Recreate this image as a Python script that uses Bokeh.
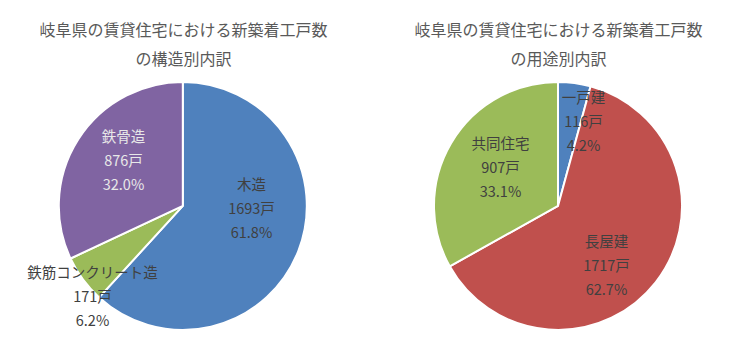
import math
from bokeh.plotting import figure
from bokeh.models import Range1d, ColumnDataSource
from bokeh.core.properties import value
from bokeh.embed import file_html
from bokeh.resources import INLINE

# ---- data ----
title_left = ["岐阜県の賃貸住宅における新築着工戸数", "の構造別内訳"]
title_right = ["岐阜県の賃貸住宅における新築着工戸数", "の用途別内訳"]

struct_names = ["木造", "鉄筋コンクリート造", "鉄骨造"]
struct_counts = [1693, 171, 876]
struct_pcts = ["61.8%", "6.2%", "32.0%"]
struct_colors = ["#4F81BD", "#9BBB59", "#8064A2"]

use_names = ["一戸建", "長屋建", "共同住宅"]
use_counts = [116, 1717, 907]
use_pcts = ["4.2%", "62.7%", "33.1%"]
use_colors = ["#4F81BD", "#C0504D", "#9BBB59"]

# ---- layout (pixel coords, y measured from top) ----
W, H = 735, 358
R = 124
FONT = "Noto Sans CJK JP"

# label anchor positions (centre of the 3-line block's middle line), per slice
struct_label_pos = [(251, 207), (92, 295), (123, 159)]
struct_label_colors = ["#404040", "#404040", "#E8E8E8"]
use_label_pos = [(583, 120), (606, 264), (500, 166)]
use_label_colors = ["#404040", "#404040", "#404040"]

p = figure(width=W, height=H, output_backend="svg", toolbar_location=None,
           x_range=Range1d(0, W), y_range=Range1d(0, H), min_border=0)
p.axis.visible = False
p.grid.visible = False
p.outline_line_color = None
p.background_fill_color = "white"
p.border_fill_color = "white"


def yy(ypx):
    return H - ypx


def draw_pie(cx, cy, counts, colors, names, pcts, label_pos, label_colors, titles, tx):
    total = sum(counts)
    starts, ends = [], []
    acc = 0
    for c in counts:
        a0 = math.pi / 2 - 2 * math.pi * acc / total
        acc += c
        a1 = math.pi / 2 - 2 * math.pi * acc / total
        starts.append(a0)
        ends.append(a1)
    src = ColumnDataSource(dict(x=[cx] * len(counts), y=[yy(cy)] * len(counts),
                                s=starts, e=ends, c=colors))
    p.wedge(x="x", y="y", radius=R, start_angle="s", end_angle="e", direction="clock",
            fill_color="c", line_color="white", line_width=2, source=src)
    # labels
    xs, ys, txt, cols = [], [], [], []
    for (lx, ly), n, c, pc, col in zip(label_pos, names, counts, pcts, label_colors):
        for dy, t in ((-24, n), (0, f"{c}戸"), (24, pc)):
            xs.append(lx)
            ys.append(yy(ly + dy))
            txt.append(t)
            cols.append(col)
    lsrc = ColumnDataSource(dict(x=xs, y=ys, t=txt, c=cols))
    p.text(x="x", y="y", text="t", text_color="c", text_font=value(FONT),
           text_font_size="14.5px", text_align="center", text_baseline="middle", source=lsrc)
    # titles
    p.text(x=[tx, tx], y=[yy(28), yy(57)], text=titles, text_color="#595959",
           text_font=value(FONT), text_font_size="16px", text_align="center",
           text_baseline="middle")


draw_pie(182.3, 205.4, struct_counts, struct_colors, struct_names, struct_pcts,
         struct_label_pos, struct_label_colors, title_left, 183)
draw_pie(557.5, 205.4, use_counts, use_colors, use_names, use_pcts,
         use_label_pos, use_label_colors, title_right, 558)

open("out.html", "w").write(file_html(p, INLINE))
